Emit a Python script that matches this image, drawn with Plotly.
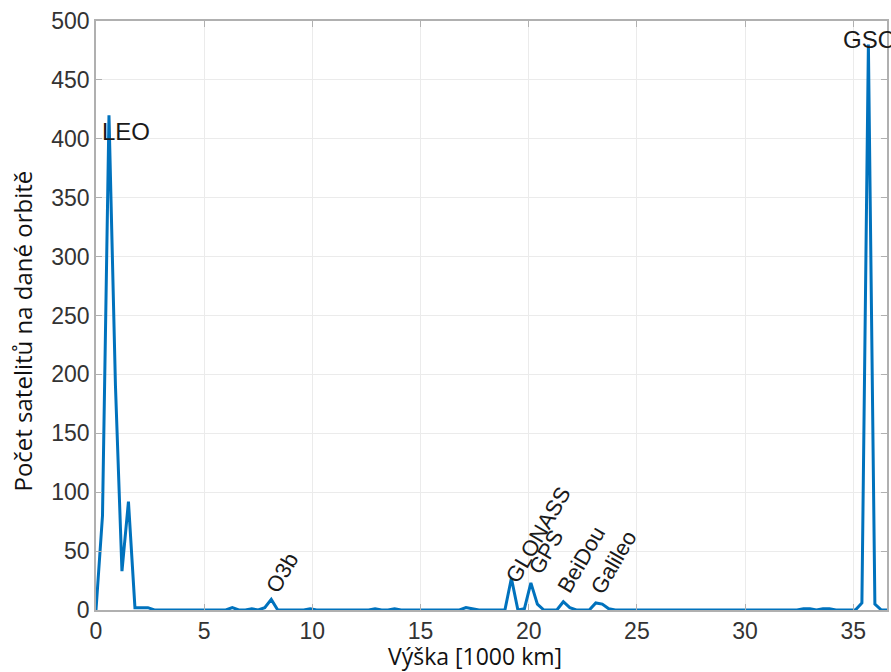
import plotly.graph_objects as go

# Altitude [1000 km] and number of satellites at that altitude
altitude = [0.0, 0.3, 0.6, 0.9, 1.2, 1.5, 1.8, 2.1, 2.4, 2.7, 6.0, 6.3, 6.6, 6.9, 7.2, 7.5,
            7.8, 8.1, 8.4, 9.6, 9.9, 10.2, 12.6, 12.9, 13.2, 13.5, 13.8, 14.1, 16.8, 17.1,
            17.4, 17.7, 18.9, 19.2, 19.5, 19.8, 20.1, 20.4, 20.7, 21.3, 21.6, 21.9, 22.2,
            22.8, 23.1, 23.4, 23.7, 24.0, 32.4, 32.7, 33.0, 33.3, 33.6, 33.9, 34.2, 35.1,
            35.4, 35.7, 36.0, 36.3, 36.6]
satellites = [0, 80, 420, 190, 33, 92, 2, 2, 2, 0, 0, 2, 0, 0, 1, 0,
              2, 9, 0, 0, 1, 0, 0, 1, 0, 0, 1, 0, 0, 2,
              1, 0, 0, 27, 0, 1, 23, 5, 0, 0, 7, 2, 0,
              0, 6, 5, 1, 0, 0, 1, 1, 0, 1, 1, 0, 0,
              6, 480, 5, 0, 0]

labels = ["LEO", "GSO"]
label_x = [0.18, 34.45]
label_y = [406, 484]

rot_labels = ["O3b", "GLONASS", "GPS", "BeiDou", "Galileo"]
rot_x = [8.6, 20.45, 20.78, 22.43, 23.93]
rot_y = [32, 64, 49, 43, 40]

x_ticks = [0, 5, 10, 15, 20, 25, 30, 35]
y_ticks = [0, 50, 100, 150, 200, 250, 300, 350, 400, 450, 500]

x_title = "Výška [1000 km]"
y_title = "Počet satelitů na dané orbitě"

fig = go.Figure()
fig.add_trace(go.Scatter(x=altitude, y=satellites, mode="lines",
                         line=dict(color="#0072BD", width=3), showlegend=False))

for t, x, y in zip(labels, label_x, label_y):
    fig.add_annotation(x=x, y=y, text=t, showarrow=False, xanchor="left", yanchor="middle",
                       font=dict(family="Liberation Sans, Arial", size=24, color="#1a1a1a"))
for t, x, y in zip(rot_labels, rot_x, rot_y):
    fig.add_annotation(x=x, y=y, text=t, showarrow=False, textangle=-60,
                       xanchor="center", yanchor="middle",
                       font=dict(family="Liberation Sans, Arial", size=22, color="#1a1a1a"))

# axis titles as annotations (offset as in the reference)
title_font = dict(family="Open Sans", size=23, color="#111111")
fig.add_annotation(xref="paper", yref="paper", x=0.4786, y=-0.0780, text=x_title,
                   showarrow=False, xanchor="center", yanchor="middle", font=title_font)
fig.add_annotation(xref="paper", yref="paper", x=-0.0935, y=0.4728, text=y_title,
                   showarrow=False, textangle=-90, xanchor="center", yanchor="middle",
                   font=dict(family="Open Sans", size=24, color="#111111"))

axis_common = dict(showgrid=True, gridcolor="#ebebeb", gridwidth=1, showline=True,
                   linecolor="#b0b0b0", linewidth=1.5, mirror="ticks", ticks="inside",
                   ticklen=6, tickcolor="#b0b0b0", zeroline=False,
                   tickfont=dict(family="Liberation Sans, Arial", size=23, color="#333333"))

fig.update_xaxes(range=[0, 36.56], tickvals=x_ticks, **axis_common)
fig.update_yaxes(range=[0, 500], tickvals=y_ticks, **axis_common)

fig.update_layout(width=891, height=672, margin=dict(l=96, r=2, t=21, b=62),
                  plot_bgcolor="white", paper_bgcolor="white")

fig.write_html("out.html")
